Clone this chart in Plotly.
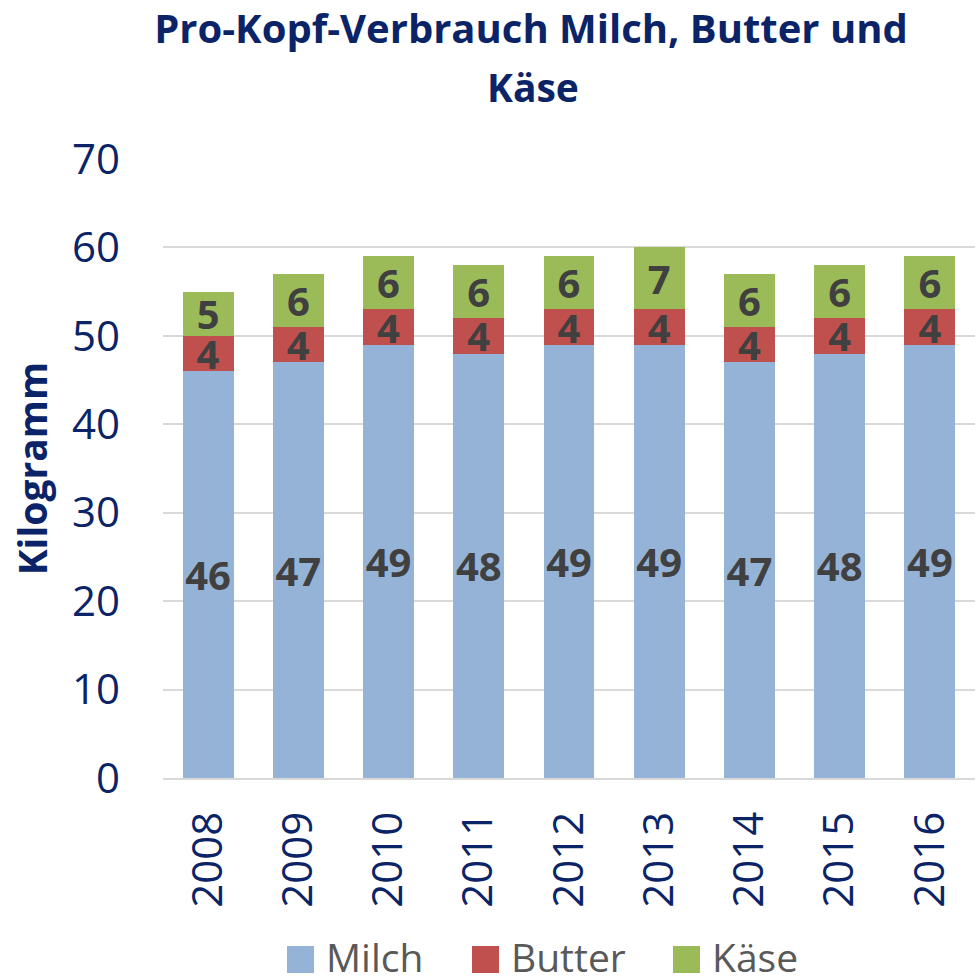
import plotly.graph_objects as go

years = ["2008", "2009", "2010", "2011", "2012", "2013", "2014", "2015", "2016"]
milch = [46, 47, 49, 48, 49, 49, 47, 48, 49]
butter = [4, 4, 4, 4, 4, 4, 4, 4, 4]
kaese = [5, 6, 6, 6, 6, 7, 6, 6, 6]

series = [("Milch", milch, "#95B3D7"),
          ("Butter", butter, "#C0504D"),
          ("Käse", kaese, "#9BBB59")]

NAVY = "#0B2467"
FONT = "Open Sans"

W, H = 979, 977
L, R, T, B = 163, 4, 159, 199
plot_w = W - L - R
plot_h = H - T - B


def px_x(x):
    return (x - L) / plot_w


def px_y(y):
    return (H - B - y) / plot_h


fig = go.Figure()
for name, vals, color in series:
    fig.add_trace(go.Bar(
        x=years, y=vals, name=name,
        marker=dict(color=color, line=dict(width=0)),
        text=vals, textposition="inside", insidetextanchor="middle",
        textangle=0, constraintext="none",
        textfont=dict(family=FONT, size=40, color="#404040", weight="bold"),
        showlegend=False,
    ))

# legend drawn by hand so the colour squares are as large as in the source
legend_items = [("Milch", "#95B3D7", 287), ("Butter", "#C0504D", 472), ("Käse", "#9BBB59", 673)]
for name, color, x0 in legend_items:
    fig.add_shape(type="rect", xref="paper", yref="paper",
                  x0=px_x(x0), x1=px_x(x0 + 27), y0=px_y(973), y1=px_y(946),
                  fillcolor=color, line=dict(width=0))
    fig.add_annotation(xref="paper", yref="paper", x=px_x(x0 + 37), y=px_y(957),
                       xanchor="left", yanchor="middle", showarrow=False,
                       text=name, font=dict(family=FONT, size=39, color="#595959"))

# second title line as its own text, plotly's multi-line title spacing is too tight
fig.add_annotation(xref="paper", yref="paper", x=px_x(533), y=px_y(86),
                   xanchor="center", yanchor="middle", showarrow=False,
                   text="<b>Käse</b>", font=dict(family=FONT, size=39, color=NAVY))

fig.update_layout(
    width=W, height=H,
    margin=dict(l=L, r=R, t=T, b=B),
    barmode="stack", bargap=0.435,
    plot_bgcolor="white", paper_bgcolor="white",
    uniformtext=dict(minsize=40, mode="show"),
    title=dict(text="<b>Pro-Kopf-Verbrauch Milch, Butter und</b>",
               x=531 / W, xanchor="center", y=1 - 29 / H, yanchor="middle",
               font=dict(family=FONT, size=40, color=NAVY)),
    xaxis=dict(tickangle=-90, tickfont=dict(family=FONT, size=42, color=NAVY),
               showline=True, linecolor="#D9D9D9", linewidth=2,
               ticks="", ticklabelstandoff=15),
    yaxis=dict(range=[0, 70], dtick=10, showgrid=True, gridcolor="#D9D9D9",
               gridwidth=2, zeroline=False, ticks="", ticklabelstandoff=42,
               tickfont=dict(family=FONT, size=42, color=NAVY),
               title=dict(text="<b>Kilogramm</b>", standoff=12,
                          font=dict(family=FONT, size=39, color=NAVY))),
)

fig.write_html("out.html", config={"displayModeBar": False},
               post_script="document.body.style.margin='0';")
